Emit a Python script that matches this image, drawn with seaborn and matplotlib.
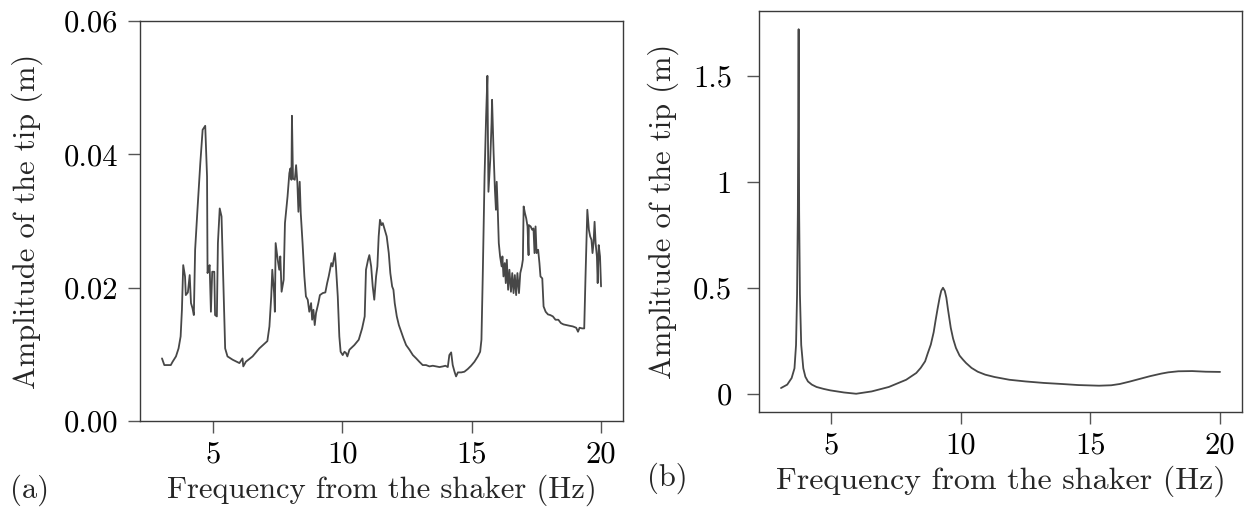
import numpy as np
import pandas as pd
import matplotlib
matplotlib.use("Agg")
import matplotlib.pyplot as plt
from matplotlib.ticker import FixedLocator, FuncFormatter
import seaborn as sns

# (a) measured tip amplitude versus shaker frequency
freq_exp = [3.03, 3.12, 3.37, 3.44, 3.57, 3.67, 3.75, 3.80, 3.85, 3.92, 3.95, 4.03, 4.10, 4.15,
            4.21, 4.26, 4.31, 4.40, 4.51, 4.60, 4.70, 4.77, 4.79, 4.83, 4.87, 4.92, 4.97, 5.05,
            5.08, 5.15, 5.19, 5.26, 5.33, 5.40, 5.47, 5.56, 5.76, 6.02, 6.14, 6.17, 6.27, 6.53,
            6.79, 7.10, 7.18, 7.25, 7.29, 7.36, 7.39, 7.42, 7.50, 7.56, 7.60, 7.65, 7.73, 7.78,
            7.88, 7.95, 7.99, 8.03, 8.05, 8.09, 8.16, 8.21, 8.26, 8.30, 8.35, 8.39, 8.46, 8.53,
            8.59, 8.66, 8.72, 8.79, 8.83, 8.88, 8.93, 8.98, 9.07, 9.13, 9.24, 9.34, 9.41, 9.47,
            9.52, 9.57, 9.62, 9.66, 9.71, 9.75, 9.82, 9.88, 9.93, 10.01, 10.08, 10.14, 10.19,
            10.27, 10.46, 10.63, 10.76, 10.86, 10.91, 10.99, 11.04, 11.11, 11.17, 11.23, 11.30,
            11.35, 11.40, 11.45, 11.51, 11.56, 11.62, 11.71, 11.79, 11.85, 11.92, 11.97, 12.02,
            12.10, 12.18, 12.27, 12.36, 12.46, 12.59, 12.72, 12.85, 12.97, 13.10, 13.23, 13.36,
            13.49, 13.62, 13.75, 13.88, 13.98, 14.07, 14.13, 14.20, 14.26, 14.33, 14.39, 14.46,
            14.59, 14.71, 14.84, 14.97, 15.10, 15.23, 15.32, 15.37, 15.42, 15.49, 15.55, 15.60,
            15.64, 15.71, 15.76, 15.78, 15.84, 15.89, 15.93, 15.96, 16.00, 16.04, 16.09, 16.15,
            16.18, 16.22, 16.27, 16.31, 16.35, 16.40, 16.45, 16.51, 16.56, 16.61, 16.66, 16.71,
            16.76, 16.82, 16.87, 16.93, 16.97, 17.00, 17.05, 17.10, 17.15, 17.19, 17.20, 17.27,
            17.33, 17.38, 17.42, 17.46, 17.50, 17.56, 17.61, 17.65, 17.72, 17.77, 17.85, 17.94,
            18.03, 18.13, 18.23, 18.34, 18.44, 18.54, 18.65, 18.77, 18.90, 19.03, 19.10, 19.16,
            19.26, 19.34, 19.39, 19.46, 19.52, 19.57, 19.62, 19.66, 19.70, 19.74, 19.78, 19.83,
            19.86, 19.90, 19.95, 19.99]
amp_exp = [0.0094, 0.0084, 0.0084, 0.0089, 0.0097, 0.0109, 0.0127, 0.0167, 0.0234, 0.0217,
           0.0189, 0.0193, 0.0219, 0.0177, 0.0169, 0.0159, 0.0257, 0.0317, 0.0387, 0.0437,
           0.0443, 0.0367, 0.0222, 0.0229, 0.0234, 0.0164, 0.0224, 0.0224, 0.0159, 0.0157,
           0.0267, 0.0319, 0.0307, 0.0207, 0.0109, 0.0097, 0.0092, 0.0087, 0.0094, 0.0082,
           0.0089, 0.0097, 0.0109, 0.0120, 0.0142, 0.0187, 0.0227, 0.0192, 0.0164, 0.0267,
           0.0242, 0.0227, 0.0247, 0.0194, 0.0212, 0.0297, 0.0337, 0.0372, 0.0379, 0.0362,
           0.0458, 0.0364, 0.0362, 0.0384, 0.0357, 0.0314, 0.0359, 0.0312, 0.0267, 0.0217,
           0.0187, 0.0182, 0.0164, 0.0177, 0.0152, 0.0167, 0.0144, 0.0162, 0.0177, 0.0189,
           0.0192, 0.0193, 0.0207, 0.0217, 0.0227, 0.0237, 0.0232, 0.0242, 0.0252, 0.0232,
           0.0187, 0.0127, 0.0104, 0.0099, 0.0104, 0.0102, 0.0097, 0.0107, 0.0114, 0.0122,
           0.0139, 0.0157, 0.0227, 0.0242, 0.0249, 0.0232, 0.0202, 0.0182, 0.0217, 0.0232,
           0.0277, 0.0302, 0.0294, 0.0297, 0.0289, 0.0277, 0.0252, 0.0222, 0.0202, 0.0197,
           0.0177, 0.0157, 0.0144, 0.0134, 0.0124, 0.0114, 0.0107, 0.0099, 0.0094, 0.0089,
           0.0084, 0.0084, 0.0082, 0.0083, 0.0082, 0.0081, 0.0082, 0.0083, 0.0081, 0.0099,
           0.0103, 0.0084, 0.0074, 0.0067, 0.0073, 0.0073, 0.0074, 0.0078, 0.0083, 0.0089,
           0.0097, 0.0104, 0.0122, 0.0217, 0.0367, 0.0457, 0.0518, 0.0344, 0.0392, 0.0447,
           0.0482, 0.0402, 0.0347, 0.0317, 0.0359, 0.0317, 0.0267, 0.0247, 0.0232, 0.0247,
           0.0217, 0.0237, 0.0207, 0.0242, 0.0197, 0.0227, 0.0194, 0.0222, 0.0192, 0.0219,
           0.0189, 0.0222, 0.0192, 0.0222, 0.0232, 0.0242, 0.0322, 0.0312, 0.0304, 0.0292,
           0.0249, 0.0294, 0.0292, 0.0287, 0.0289, 0.0252, 0.0292, 0.0252, 0.0257, 0.0237,
           0.0217, 0.0214, 0.0172, 0.0164, 0.0160, 0.0159, 0.0157, 0.0152, 0.0152, 0.0147,
           0.0145, 0.0144, 0.0143, 0.0142, 0.0140, 0.0134, 0.0140, 0.0139, 0.0139, 0.0217,
           0.0317, 0.0287, 0.0277, 0.0272, 0.0252, 0.0267, 0.0299, 0.0267, 0.0247, 0.0207,
           0.0264, 0.0247, 0.0202]

# (b) model tip amplitude versus shaker frequency
freq_model = [3.06, 3.30, 3.47, 3.58, 3.64, 3.68, 3.71, 3.74, 3.76, 3.79, 3.84, 3.92, 4.00,
              4.10, 4.25, 4.43, 4.70, 4.96, 5.49, 5.96, 6.56, 7.22, 7.89, 8.28, 8.45, 8.62,
              8.72, 8.84, 8.95, 9.02, 9.10, 9.18, 9.24, 9.31, 9.38, 9.44, 9.50, 9.61, 9.70,
              9.81, 9.95, 10.08, 10.20, 10.41, 10.65, 10.94, 11.30, 11.87, 12.50, 13.20,
              13.90, 14.53, 15.33, 15.80, 16.13, 16.50, 16.93, 17.30, 17.73, 18.00, 18.39,
              18.92, 19.45, 20.00]
amp_model = [0.027, 0.043, 0.074, 0.12, 0.23, 0.47, 0.86, 1.72, 0.86, 0.47, 0.23, 0.12, 0.080,
             0.058, 0.043, 0.032, 0.023, 0.016, 0.006, 0.0, 0.011, 0.032, 0.066, 0.098, 0.122,
             0.153, 0.190, 0.232, 0.290, 0.343, 0.400, 0.453, 0.485, 0.500, 0.485, 0.453,
             0.400, 0.311, 0.260, 0.216, 0.180, 0.161, 0.145, 0.122, 0.104, 0.090, 0.079,
             0.066, 0.058, 0.051, 0.046, 0.041, 0.038, 0.040, 0.046, 0.057, 0.071, 0.083,
             0.095, 0.101, 0.106, 0.107, 0.104, 0.103]

freq_ticks = [5, 10, 15, 20]
amp_ticks_exp = [0.00, 0.02, 0.04, 0.06]
amp_ticks_model = [0, 0.5, 1, 1.5]

x_label = "Frequency from the shaker (Hz)"
y_label = "Amplitude of the tip (m)"
panel_labels = ["(a)", "(b)"]

sns.set_theme(style="ticks")
plt.rcParams.update({
    "font.family": ["cmr10", "DejaVu Serif"],
    "axes.formatter.use_mathtext": True,
    "mathtext.fontset": "cm",
    "font.size": 22,
    "axes.edgecolor": "#3a3a3a",
    "axes.linewidth": 1.0,
    "xtick.color": "#555555",
    "ytick.color": "#555555",
    "xtick.labelcolor": "black",
    "ytick.labelcolor": "black",
    "xtick.major.size": 8.5,
    "ytick.major.size": 8.5,
    "xtick.major.width": 1.0,
    "ytick.major.width": 1.0,
    "xtick.major.pad": 6,
    "ytick.major.pad": 7,
    "xtick.labelsize": 22,
    "ytick.labelsize": 22,
    "axes.labelsize": 22,
})

line_color = "#474747"

fig = plt.figure(figsize=(12.47, 5.16), dpi=100)
ax_a = fig.add_axes([0.1123, 0.184, 0.3873, 0.775])
ax_b = fig.add_axes([0.6087, 0.2016, 0.3873, 0.7771])

df_a = pd.DataFrame({"freq": freq_exp, "amp": amp_exp})
df_b = pd.DataFrame({"freq": freq_model, "amp": amp_model})

sns.lineplot(data=df_a, x="freq", y="amp", ax=ax_a, color=line_color, linewidth=1.3,
             estimator=None, sort=False)
sns.lineplot(data=df_b, x="freq", y="amp", ax=ax_b, color=line_color, linewidth=1.3,
             estimator=None, sort=False)

ax_a.set_ylim(0, 0.06)
ax_a.yaxis.set_major_locator(FixedLocator(amp_ticks_exp))
ax_a.yaxis.set_major_formatter(FuncFormatter(lambda v, p: f"{v:.2f}"))
ax_b.yaxis.set_major_locator(FixedLocator(amp_ticks_model))
ax_b.yaxis.set_major_formatter(FuncFormatter(lambda v, p: f"{v:g}"))

for ax in (ax_a, ax_b):
    ax.xaxis.set_major_locator(FixedLocator(freq_ticks))
    ax.xaxis.set_major_formatter(FuncFormatter(lambda v, p: f"{v:g}"))
    ax.set_xlabel(x_label, labelpad=4)
    for s in ax.spines.values():
        s.set_visible(True)

ax_a.set_ylabel(y_label, labelpad=15)
ax_b.tick_params(axis="y", pad=11)
ax_b.set_ylabel(y_label, labelpad=10)
ax_b.xaxis.label.set_fontsize(23)

fig.text(0.008, 0.05, panel_labels[0], ha="left", va="center", fontsize=22)
fig.text(0.519, 0.073, panel_labels[1], ha="left", va="center", fontsize=22)

fig.savefig("out.png", dpi=100)
